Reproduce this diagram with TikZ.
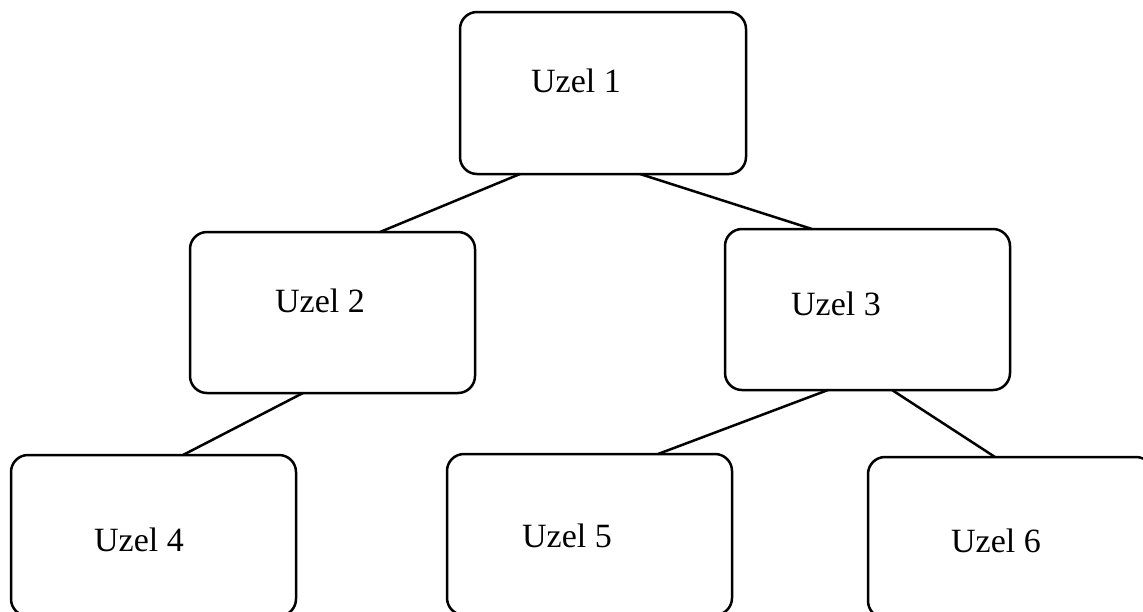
\documentclass[tikz,border=0pt]{standalone}
\usepackage{fontspec}
\setmainfont{Liberation Serif}
\begin{document}
\begin{tikzpicture}[x=0.5pt,y=-0.5pt,
  box/.style={draw=black, line width=1.25pt, rounded corners=8.5pt, outer sep=0pt,
    minimum width=142.5pt, minimum height=80.5pt, inner sep=0pt, fill=white},
  lbl/.style={anchor=base, inner sep=0pt, font=\fontsize{17}{20}\selectfont},
  link/.style={draw=black, line width=1.25pt}]
\useasboundingbox (0,0) rectangle (1143,611);
\fill[white] (0,0) rectangle (1143,611);
\clip (0,0) rectangle (1143,611);
% boxes
\node[box, minimum width=143pt, minimum height=81pt] (n1) at (603,93) {};
\node[box] (n2) at (332.5,312.5) {};
\node[box] (n3) at (867.5,309.5) {};
\node[box] (n4) at (153.5,535.5) {};
\node[box] (n5) at (589.5,534.5) {};
\node[box] (n6) at (1010.5,537.5) {};
% labels
\node[lbl] (t1) at (576,92) {Uzel 1};
\node[lbl] (t2) at (320,312) {Uzel 2};
\node[lbl] (t3) at (836,315) {Uzel 3};
\node[lbl] (t4) at (139,551) {Uzel 4};
\node[lbl] (t5) at (567,547) {Uzel 5};
\node[lbl] (t6) at (996,552) {Uzel 6};
% connectors
\draw[link] ([xshift=-41.5pt]n1.south) -- ([xshift=23.75pt]n2.north);
\draw[link] ([xshift=18.5pt]n1.south) -- ([xshift=-27.75pt]n3.north);
\draw[link] ([xshift=-14.75pt]n2.south) -- ([xshift=14.75pt]n4.north);
\draw[link] ([xshift=-19.75pt]n3.south) -- ([xshift=34.25pt]n5.north);
\draw[link] ([xshift=12.25pt]n3.south) -- ([xshift=-7.75pt]n6.north);
\end{tikzpicture}
\end{document}
